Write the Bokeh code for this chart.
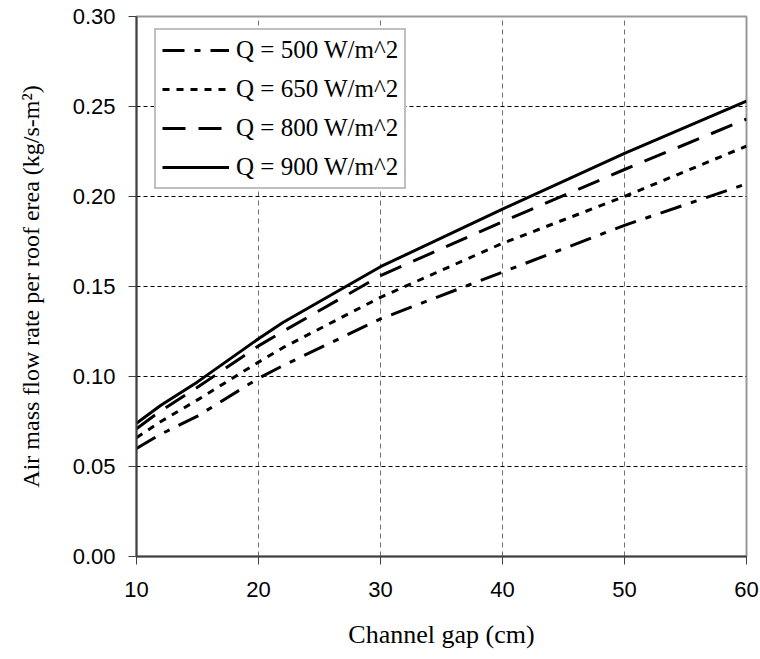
from bokeh.plotting import figure
from bokeh.models import Range1d, FixedTicker, Legend, LegendItem, NumeralTickFormatter
from bokeh.embed import file_html
from bokeh.resources import INLINE

# ---- data ----
gap_cm = [10, 12, 15, 20, 22, 30, 40, 50, 60]
q500 = [0.060, 0.068, 0.078, 0.099, 0.106, 0.132, 0.158, 0.184, 0.207]
q650 = [0.066, 0.075, 0.087, 0.108, 0.116, 0.144, 0.174, 0.200, 0.228]
q800 = [0.071, 0.081, 0.094, 0.117, 0.125, 0.156, 0.186, 0.215, 0.243]
q900 = [0.074, 0.084, 0.097, 0.121, 0.130, 0.161, 0.193, 0.224, 0.253]
series_labels = ["Q = 500 W/m^2", "Q = 650 W/m^2", "Q = 800 W/m^2", "Q = 900 W/m^2"]
x_ticks = [10, 20, 30, 40, 50, 60]
y_ticks = [0.00, 0.05, 0.10, 0.15, 0.20, 0.25, 0.30]
x_title = "Channel gap (cm)"
y_title = "Air mass flow rate per roof erea (kg/s-m\u00b2)"

p = figure(width=760, height=659, output_backend="svg", toolbar_location=None,
           x_range=Range1d(10, 60), y_range=Range1d(0, 0.30),
           min_border_left=136, min_border_right=14, min_border_top=16, min_border_bottom=103)
p.background_fill_color = "white"
p.border_fill_color = "white"
p.outline_line_color = "#999999"
p.outline_line_width = 2

dashes = ["22 10 6 10", "7 7", "23 13", "solid"]
series = [q500, q650, q800, q900]
renderers = []
for ys, d in zip(series, dashes):
    r = p.line(gap_cm, ys, line_color="black", line_width=3, line_dash=d)
    renderers.append(r)

legend = Legend(items=[LegendItem(label=l, renderers=[r]) for l, r in zip(series_labels, renderers)],
                location=(18, 367))
legend.label_text_font = "Liberation Serif"
legend.label_text_font_size = "25px"
legend.label_text_color = "black"
legend.glyph_width = 67
legend.glyph_height = 28
legend.label_height = 28
legend.label_standoff = 7
legend.spacing = 11
legend.padding = 6
legend.margin = 0
legend.border_line_color = "#808080"
legend.border_line_width = 2
legend.background_fill_color = "white"
legend.background_fill_alpha = 1
p.add_layout(legend)

# axes
for ax in (p.xaxis[0], p.yaxis[0]):
    ax.axis_line_color = "#404040"
    ax.axis_line_width = 2
    ax.major_tick_line_color = "#404040"
    ax.major_tick_line_width = 1
    ax.major_tick_in = 0
    ax.major_tick_out = 8
    ax.minor_tick_line_color = None
    ax.major_label_text_font = "Liberation Sans"
    ax.major_label_text_font_size = "22px"
    ax.major_label_text_color = "black"
    ax.axis_label_text_font = "Liberation Serif"
    ax.axis_label_text_font_style = "normal"
    ax.axis_label_text_color = "black"

p.xaxis.axis_label_text_font_size = "26px"
p.yaxis.axis_label_text_font_size = "24px"
p.xaxis.ticker = FixedTicker(ticks=x_ticks)
p.yaxis.ticker = FixedTicker(ticks=y_ticks)
p.yaxis.formatter = NumeralTickFormatter(format="0.00")
p.xaxis.axis_label = x_title
p.yaxis.axis_label = y_title
p.xaxis.major_label_standoff = 17
p.xaxis.axis_label_standoff = 20
p.yaxis.major_label_standoff = 13
p.yaxis.axis_label_standoff = 26

# grid
p.xgrid.ticker = FixedTicker(ticks=x_ticks)
p.ygrid.ticker = FixedTicker(ticks=y_ticks)
p.xgrid.grid_line_color = "#707070"
p.xgrid.grid_line_dash = "5 4"
p.xgrid.grid_line_width = 1
p.ygrid.grid_line_color = "#000000"
p.ygrid.grid_line_dash = "4 3"
p.ygrid.grid_line_width = 1

open("out.html", "w").write(file_html(p, INLINE))
